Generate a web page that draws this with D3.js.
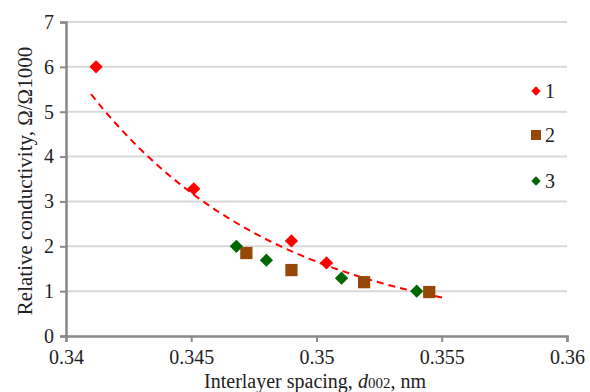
<!DOCTYPE html>
<html><head><meta charset="utf-8">
<script src="https://cdn.jsdelivr.net/npm/d3@7"></script>
<style>body{margin:0;background:#fff}svg{display:block}svg text{font-family:"Liberation Serif","Times New Roman",Times,"DejaVu Serif",serif !important;fill:#222}</style>
</head><body>
<script>
const xTicks = [0.34, 0.345, 0.35, 0.355, 0.36];
const yTicks = [0, 1, 2, 3, 4, 5, 6, 7];
const series1X = [0.3412, 0.3451, 0.3490, 0.3504];
const series1Y = [6.0, 3.28, 2.12, 1.63];
const series2X = [0.3472, 0.3490, 0.3519, 0.3545];
const series2Y = [1.85, 1.47, 1.20, 0.98];
const series3X = [0.3468, 0.3480, 0.3510, 0.3540];
const series3Y = [2.0, 1.69, 1.29, 1.0];
const seriesNames = ["1", "2", "3"];
// exponential trend line: endpoints
const trendX = [0.3410, 0.3551];
const trendY = [5.39, 0.85];

const FONT = '"Liberation Serif","Times New Roman",Times,"DejaVu Serif",serif';
const W = 590, H = 392;
const m = {l: 66, r: 23, t: 22, b: 56};
const svg = d3.select("body").append("svg").attr("width", W).attr("height", H)
  .attr("font-family", FONT);
const x = d3.scaleLinear().domain([0.34, 0.36]).range([m.l, W - m.r]);
const y = d3.scaleLinear().domain([0, 7]).range([H - m.b, m.t]);

// gridlines
svg.append("g").selectAll("line").data(yTicks.filter(d => d > 0)).join("line")
  .attr("x1", m.l).attr("x2", W - m.r).attr("y1", d => y(d)).attr("y2", d => y(d))
  .attr("stroke", "#d9d9d9").attr("stroke-width", 2);

// axes
const gx = svg.append("g").attr("transform", `translate(0,${H - m.b})`)
  .call(d3.axisBottom(x).tickValues(xTicks).tickFormat(d => String(+d.toFixed(3))).tickSize(6).tickPadding(8));
const gy = svg.append("g").attr("transform", `translate(${m.l},0)`)
  .call(d3.axisLeft(y).tickValues(yTicks).tickFormat(d3.format("d")).tickSize(6).tickPadding(6));
[gx, gy].forEach(g => {
  g.attr("font-family", FONT);
  g.select(".domain").attr("stroke", "#898989").attr("stroke-width", 2.5);
  g.selectAll(".tick line").attr("stroke", "#898989").attr("stroke-width", 2);
  g.selectAll(".tick text").attr("font-size", 20).attr("font-family", FONT).attr("fill", "#222");
});

// trend line (exponential between endpoints)
const b = Math.log(trendY[1] / trendY[0]) / (trendX[1] - trendX[0]);
const trendPts = d3.range(0, 61).map(i => {
  const xv = trendX[0] + (trendX[1] - trendX[0]) * i / 60;
  return [xv, trendY[0] * Math.exp(b * (xv - trendX[0]))];
});
svg.append("path").datum(trendPts)
  .attr("d", d3.line().x(d => x(d[0])).y(d => y(d[1])))
  .attr("fill", "none").attr("stroke", "#ff0000").attr("stroke-width", 2)
  .attr("stroke-dasharray", "7,5");

const colors = ["#ff0000", "#974706", "#006600"];
function draw(xs, ys, i) {
  const sym = i === 1 ? d3.symbol().type(d3.symbolSquare).size(150)
                      : d3.symbol().type(d3.symbolSquare).size(88);
  svg.append("g").selectAll("path").data(xs.map((v, k) => [v, ys[k]])).join("path")
    .attr("d", sym)
    .attr("transform", d => `translate(${x(d[0])},${y(d[1])})` + (i === 1 ? "" : " rotate(45)"))
    .attr("fill", colors[i]);
}
draw(series1X, series1Y, 0);
draw(series2X, series2Y, 1);
draw(series3X, series3Y, 2);

// legend
const legY = [91, 135, 181];
seriesNames.forEach((n, i) => {
  const sym = i === 1 ? d3.symbol().type(d3.symbolSquare).size(100)
                      : d3.symbol().type(d3.symbolSquare).size(44);
  svg.append("path").attr("d", sym)
    .attr("transform", `translate(536,${legY[i]})` + (i === 1 ? "" : " rotate(45)"))
    .attr("fill", colors[i]);
  svg.append("text").attr("x", 545).attr("y", legY[i] + 7).attr("font-size", 20).text(n);
});

// axis titles
const xt = svg.append("text").attr("x", 315).attr("y", 388).attr("text-anchor", "middle").attr("font-size", 20);
xt.append("tspan").text("Interlayer spacing, ");
xt.append("tspan").attr("font-style", "italic").text("d");
xt.append("tspan").attr("font-size", 15).text("002");
xt.append("tspan").text(", nm");

svg.append("text").attr("transform", `translate(32,181) rotate(-90)`)
  .attr("text-anchor", "middle").attr("font-size", 21)
  .text("Relative conductivity, Ω/Ω1000");
</script>
</body></html>
